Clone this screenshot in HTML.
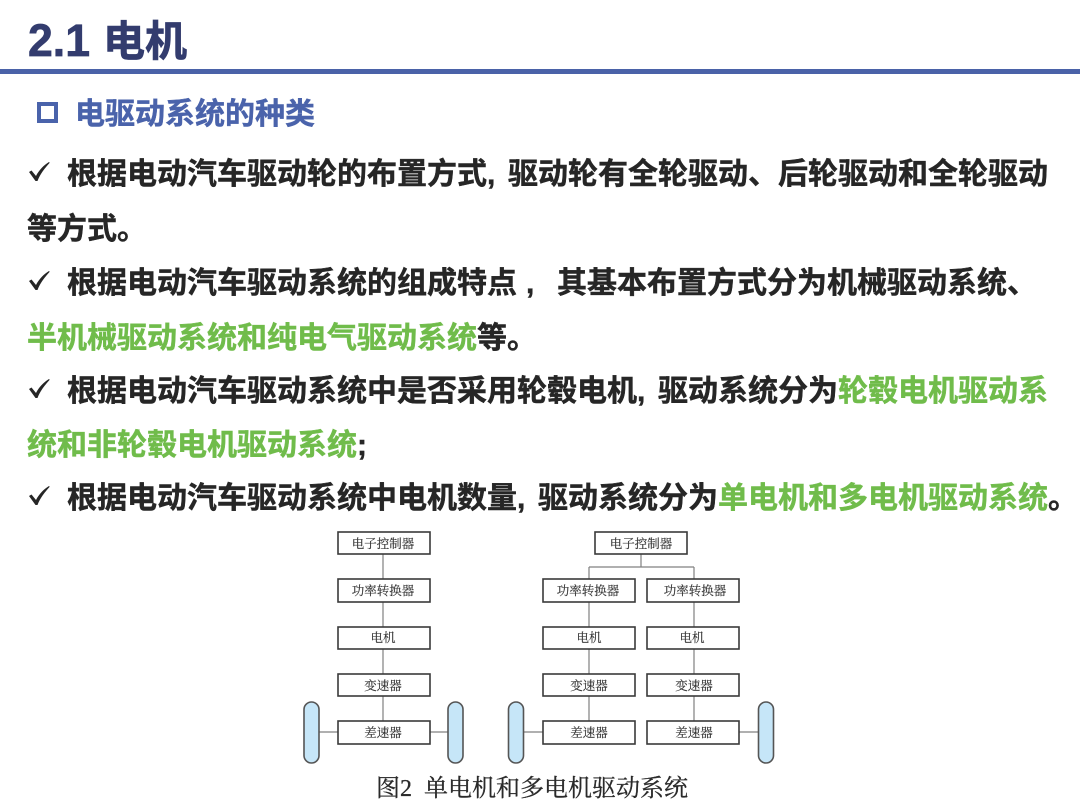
<!DOCTYPE html>
<html lang="zh"><head><meta charset="utf-8"><title>2.1 电机</title>
<style>
html,body{margin:0;padding:0;background:#fff;width:1080px;height:809px;overflow:hidden}
svg{display:block;filter:blur(.35px)}
.s{font-family:"Liberation Sans","Noto Sans CJK SC",sans-serif;font-weight:700;font-size:30px;fill:#262626;stroke:#262626;stroke-width:.45px}
.g{fill:#70bc4b;stroke:#70bc4b}
.h{fill:#4a63ab;stroke:#4a63ab}
.t{font-family:"Liberation Sans","Noto Sans CJK SC",sans-serif;font-weight:700;fill:#333c6e;stroke:#333c6e;stroke-width:.7px}
.b{font-family:"Liberation Serif","Noto Serif CJK SC",serif;font-size:12.5px;fill:#333;stroke:#333;stroke-width:.15px;text-anchor:middle}
.c{font-family:"Liberation Serif","Noto Serif CJK SC",serif;font-size:24px;fill:#2a2a2a;stroke:#2a2a2a;stroke-width:.3px}
.bx{fill:#fff;stroke:#3a3a3a;stroke-width:1.6}
.ln{stroke:#808080;stroke-width:1.2;fill:none}
.wh{fill:#c6e6f8;stroke:#555;stroke-width:1.6}
</style></head><body>
<svg width="1080" height="809" viewBox="0 0 1080 809" xmlns="http://www.w3.org/2000/svg">
<rect width="1080" height="809" fill="#fff"/>
<rect x="0" y="69" width="1080" height="5" fill="#4a62a8"/>
<text x="28" y="56" class="t" style="font-size:45px" textLength="62" lengthAdjust="spacingAndGlyphs">2.1</text>
<text x="103" y="56" class="t" style="font-size:42px">电机</text>
<rect x="39" y="104" width="17" height="17" fill="none" stroke="#4a63ab" stroke-width="4"/>
<text x="75" y="124" class="s h">电驱动系统的种类</text>

<g fill="#262626">
<path d="M29 172l2.500-1.500 4.500 5.500C39 170 44 165 49 162l.7.7C45 168 40 174 37.500 181h-2z"/>
<path d="M29 281l2.500-1.500 4.500 5.500C39 279 44 274 49 271l.7.7C45 277 40 283 37.500 290h-2z"/>
<path d="M29 389l2.500-1.500 4.500 5.500C39 387 44 382 49 379l.7.7C45 385 40 391 37.500 398h-2z"/>
<path d="M29 496l2.500-1.500 4.500 5.500C39 494 44 489 49 486l.7.7C45 492 40 498 37.500 505h-2z"/>
</g>

<text x="67" y="184" class="s">根据电动汽车驱动轮的布置方式,</text>
<text x="508" y="184" class="s">驱动轮有全轮驱动、后轮驱动和全轮驱动</text>
<text x="27" y="239" class="s">等方式。</text>
<text x="67" y="293" class="s">根据电动汽车驱动系统的组成特点</text>
<text x="526" y="293" class="s">,</text>
<text x="557" y="293" class="s">其基本布置方式分为机械驱动系统、</text>
<text x="27" y="348" class="s"><tspan class="g">半机械驱动系统和纯电气驱动系统</tspan>等。</text>
<text x="67" y="401" class="s">根据电动汽车驱动系统中是否采用轮毂电机,</text>
<text x="658" y="401" class="s">驱动系统分为<tspan class="g">轮毂电机驱动系</tspan></text>
<text x="27" y="455" class="s"><tspan class="g">统和非轮毂电机驱动系统</tspan>;</text>
<text x="67" y="508" class="s">根据电动汽车驱动系统中电机数量,</text>
<text x="538" y="508" class="s">驱动系统分为<tspan class="g">单电机和多电机驱动系统</tspan>。</text>

<!-- connectors -->
<path class="ln" d="M383 554V721M319 732H338M430 732H448"/>
<path class="ln" d="M641 554V567M589 567H694M589 567V579M694 567V579M589 602V721M694 602V721M523 732H543M739 732H758"/>

<!-- wheels -->
<rect class="wh" x="304" y="702" width="15" height="61" rx="7.5"/>
<rect class="wh" x="448" y="702" width="15" height="61" rx="7.5"/>
<rect class="wh" x="508.500" y="702" width="15" height="61" rx="7.5"/>
<rect class="wh" x="758.500" y="702" width="15" height="61" rx="7.5"/>

<!-- left stack -->
<rect class="bx" x="338" y="532" width="92" height="22"/><text class="b" x="383" y="548">电子控制器</text>
<rect class="bx" x="338" y="579" width="92" height="23"/><text class="b" x="383" y="595">功率转换器</text>
<rect class="bx" x="338" y="627" width="92" height="22"/><text class="b" x="383" y="642">电机</text>
<rect class="bx" x="338" y="674" width="92" height="22"/><text class="b" x="383" y="690">变速器</text>
<rect class="bx" x="338" y="721" width="92" height="23"/><text class="b" x="383" y="737">差速器</text>

<!-- right stack -->
<rect class="bx" x="595" y="532" width="92" height="22"/><text class="b" x="641" y="548">电子控制器</text>
<rect class="bx" x="543" y="579" width="92" height="23"/><text class="b" x="588" y="595">功率转换器</text>
<rect class="bx" x="647" y="579" width="92" height="23"/><text class="b" x="695" y="595">功率转换器</text>
<rect class="bx" x="543" y="627" width="92" height="22"/><text class="b" x="589" y="642">电机</text>
<rect class="bx" x="647" y="627" width="92" height="22"/><text class="b" x="692" y="642">电机</text>
<rect class="bx" x="543" y="674" width="92" height="22"/><text class="b" x="589" y="690">变速器</text>
<rect class="bx" x="647" y="674" width="92" height="22"/><text class="b" x="694" y="690">变速器</text>
<rect class="bx" x="543" y="721" width="92" height="23"/><text class="b" x="589" y="737">差速器</text>
<rect class="bx" x="647" y="721" width="92" height="23"/><text class="b" x="694" y="737">差速器</text>

<text x="376" y="796" class="c">图2</text>
<text x="424" y="796" class="c">单电机和多电机驱动系统</text>
</svg>
</body></html>
